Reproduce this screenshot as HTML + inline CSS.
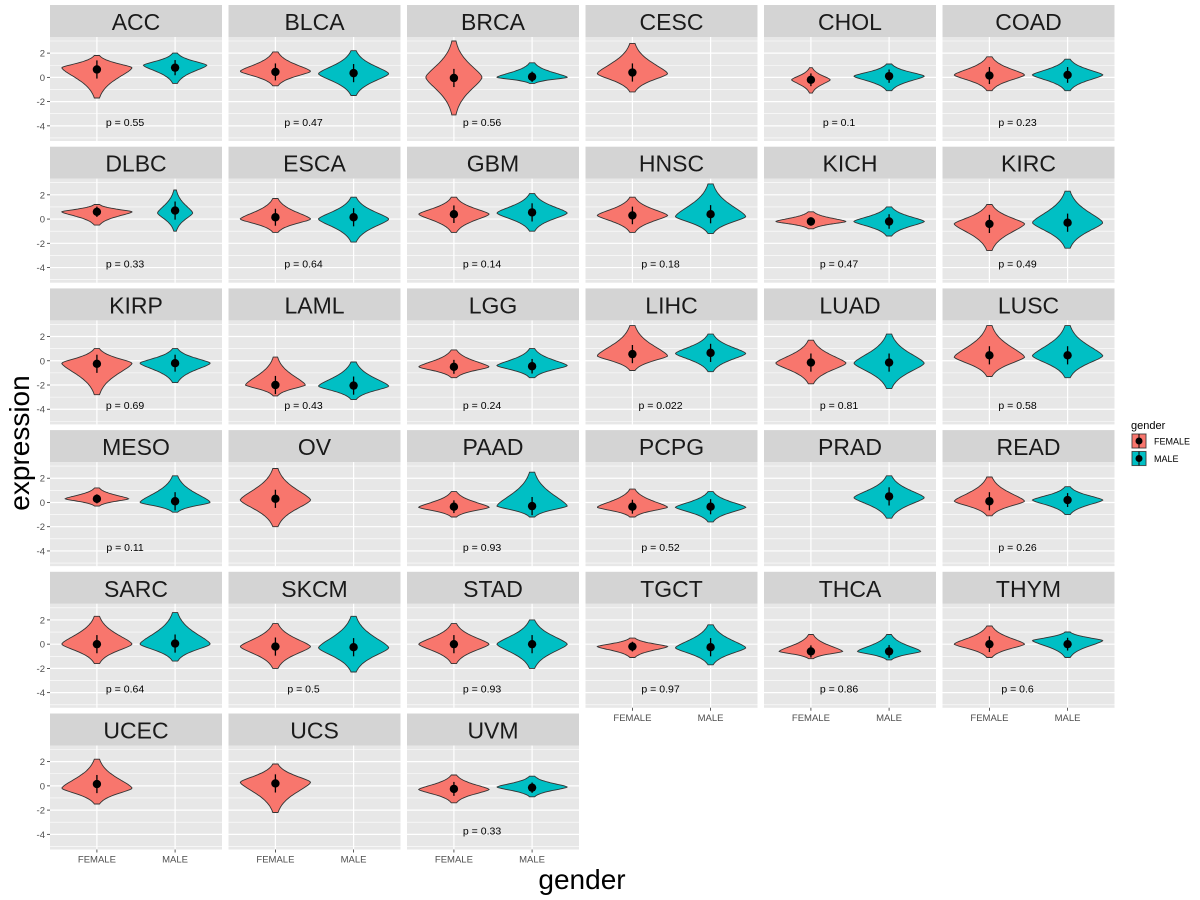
<!DOCTYPE html>
<html><head><meta charset="utf-8"><style>
html,body{margin:0;padding:0;background:#fff}
svg{display:block;font-family:"Liberation Sans",Arial,sans-serif}
</style></head><body>
<svg id="chart" width="1200" height="900" viewBox="0 0 1200 900"></svg>
<script>
const cancers=["ACC","BLCA","BRCA","CESC","CHOL","COAD","DLBC","ESCA","GBM","HNSC","KICH","KIRC","KIRP","LAML","LGG","LIHC","LUAD","LUSC","MESO","OV","PAAD","PCPG","PRAD","READ","SARC","SKCM","STAD","TGCT","THCA","THYM","UCEC","UCS","UVM"];
// female violins: [min, max, peak, relative width, mean] (null = no data)
const femaleStats=[[-1.7,1.8,0.8,1,0.65],[-0.7,2.1,0.5,1,0.45],[-3.1,3.0,0,0.8,-0.05],[-1.2,2.8,0.3,1,0.4],[-1.3,0.8,-0.2,0.55,-0.2],[-1.1,1.7,0.2,1,0.15],
[-0.5,1.2,0.6,1,0.6],[-1.1,1.7,0,1,0.15],[-1.1,1.8,0.4,1,0.4],[-1.1,1.8,0.3,1,0.3],[-0.8,0.6,-0.2,1,-0.2],[-2.6,1.2,-0.4,1,-0.4],
[-2.8,1.0,-0.2,1,-0.25],[-2.9,0.3,-2.0,0.85,-2.0],[-1.4,0.9,-0.5,1,-0.5],[-0.8,2.9,0.4,1,0.55],[-1.9,1.7,-0.2,1,-0.15],[-1.3,2.9,0.3,1,0.45],
[-0.3,1.2,0.3,0.9,0.3],[-2.0,2.8,0.2,1,0.3],[-1.2,0.9,-0.4,1,-0.35],[-1.2,1.1,-0.4,1,-0.35],null,[-1.1,2.1,0.1,1,0.1],
[-1.6,2.3,0,1,0],[-2.0,1.7,-0.2,1,-0.2],[-1.6,1.7,0,1,0],[-1.1,0.5,-0.2,1,-0.2],[-1.2,0.8,-0.6,0.9,-0.6],[-1.1,1.5,0,1,0],
[-1.5,2.2,-0.2,1,0.15],[-2.2,1.8,0.3,1,0.2],[-1.4,0.9,-0.3,1,-0.25]];
const maleStats=[[-0.5,2.0,1.0,0.9,0.8],[-1.5,2.2,0.3,1,0.35],[-0.5,1.2,0,1,0.05],null,[-1.1,1.1,0.1,1,0.1],[-1.1,1.5,0.2,1,0.2],
[-1.0,2.4,0.5,0.5,0.7],[-1.9,1.8,0,1,0.15],[-1.0,2.1,0.5,1,0.55],[-1.2,2.9,0.2,1,0.4],[-1.4,1.0,-0.2,1,-0.2],[-2.4,2.3,-0.3,1,-0.3],
[-1.8,1.0,-0.2,1,-0.2],[-3.2,-0.1,-2.1,1,-2.05],[-1.4,1.0,-0.4,1,-0.45],[-0.9,2.2,0.6,1,0.65],[-2.3,2.2,-0.2,1,-0.15],[-1.4,2.9,0.4,1,0.45],
[-0.8,2.2,0,1,0.1],null,[-1.2,2.5,-0.3,1,-0.3],[-1.6,0.9,-0.4,1,-0.35],[-1.3,2.2,0.4,1,0.5],[-1.0,1.3,0.2,1,0.2],
[-1.4,2.6,0,1,0.05],[-2.3,2.3,-0.3,1,-0.25],[-2.0,2.0,0,1,0],[-1.7,1.6,-0.3,1,-0.25],[-1.3,0.8,-0.6,0.9,-0.6],[-1.1,1.0,0.3,1,0],
null,null,[-0.9,0.8,-0.1,1,-0.15]];
const pValues=["0.55","0.47","0.56",null,"0.1","0.23","0.33","0.64","0.14","0.18","0.47","0.49","0.69","0.43","0.24","0.022","0.81","0.58","0.11",null,"0.93","0.52",null,"0.26","0.64","0.5","0.93","0.97","0.86","0.6",null,null,"0.33"];
const yTicks=[-4,-2,0,2];
const xCats=["FEMALE","MALE"];

const NS="http://www.w3.org/2000/svg";
const svg=document.getElementById('chart');
function el(tag,attrs,parent){const e=document.createElementNS(NS,tag);for(const k in attrs)e.setAttribute(k,attrs[k]);(parent||svg).appendChild(e);return e;}
const PW=172,PH=104,SH=32,colStep=178.5,rowStep=141.7,X0=50,Y0=5;
const yMin=-5.25,yMax=3.33;
const fill=["#F8766D","#00BFC4"];
for(let i=0;i<cancers.length;i++){
  const c=i%6,r=Math.floor(i/6);
  const px=X0+c*colStep, sy=Y0+r*rowStep, py=sy+SH;
  const ys=v=>py+(yMax-v)/(yMax-yMin)*PH;
  const xs=v=>px+(v-0.4)/2.2*PW;
  const g=el('g',{});
  
  
  const strip=el('rect',{x:px,y:sy,width:PW,height:SH,fill:'#d4d4d4'},g);
  
  const st=el('text',{x:px+PW/2,y:sy+25,'text-anchor':'middle','font-size':23,fill:'#1a1a1a'},g);
  st.textContent=cancers[i];
  
  const bg=el('rect',{x:px,y:py,width:PW,height:PH,fill:'#e7e7e7'},g);
  
  for(let v=-5;v<=3;v+=2) el('line',{x1:px,x2:px+PW,y1:ys(v),y2:ys(v),stroke:'#fff','stroke-width':0.6},g);
  yTicks.forEach(v=>el('line',{x1:px,x2:px+PW,y1:ys(v),y2:ys(v),stroke:'#fff','stroke-width':1.2},g));
  [1,2].forEach(v=>el('line',{x1:xs(v),x2:xs(v),y1:py,y2:py+PH,stroke:'#fff','stroke-width':1.2},g));
  [femaleStats[i],maleStats[i]].forEach((s,k)=>{
    if(!s)return;
    const [lo,hi,pk,w,mean]=s;
    const cx=xs(k+1), maxW=0.45/2.2*PW*w;
    const su=Math.max((hi-pk)/3.0,0.12), sd=Math.max((pk-lo)/3.0,0.12);
    const pts=[],N=50;
    for(let j=0;j<=N;j++){const y=lo+(hi-lo)*j/N;const s2=y>pk?su:sd;const hw=maxW*Math.exp(-0.5*Math.pow(Math.abs(y-pk)/s2,1.5));pts.push([y,Math.max(hw,1.2)]);}
    let d='M'+pts.map(p=>(cx+p[1]).toFixed(1)+','+ys(p[0]).toFixed(1)).join('L');
    d+='L'+pts.slice().reverse().map(p=>(cx-p[1]).toFixed(1)+','+ys(p[0]).toFixed(1)).join('L')+'Z';
    const v=el('path',{d:d,fill:fill[k],stroke:'#333','stroke-width':0.9},g);
    
    const sdv=Math.min(0.75,(hi-lo)/4);
    el('line',{x1:cx,x2:cx,y1:ys(mean-sdv),y2:ys(mean+sdv),stroke:'#000','stroke-width':1.3},g);
    const pt=el('circle',{cx:cx,cy:ys(mean),r:4.2,fill:'#000'},g);
    
  });
  if(pValues[i]){const t=el('text',{x:xs(1.36),y:ys(-4),'text-anchor':'middle','font-size':10.5,fill:'#000'},g);t.textContent='p = '+pValues[i];
    }
  if(c===0){yTicks.forEach(v=>{el('line',{x1:px-3,x2:px,y1:ys(v),y2:ys(v),stroke:'#333','stroke-width':0.8},g);
    const t=el('text',{x:px-5,y:ys(v)+3.5,'text-anchor':'end','font-size':9.5,fill:'#4d4d4d'},g);t.textContent=v;
    });}
  const bottom=(r===5)||(r===4&&c>=3);
  if(bottom){xCats.forEach((n,k)=>{el('line',{x1:xs(k+1),x2:xs(k+1),y1:py+PH,y2:py+PH+3,stroke:'#333','stroke-width':0.8},g);
    const t=el('text',{x:xs(k+1),y:py+PH+13,'text-anchor':'middle','font-size':9.5,fill:'#4d4d4d'},g);t.textContent=n;
    });}
}
const yt=el('text',{x:0,y:0,transform:'translate(29,443) rotate(-90)','text-anchor':'middle','font-size':28,fill:'#000'});
yt.textContent='expression';
const xt=el('text',{x:582,y:889,'text-anchor':'middle','font-size':28,fill:'#000'});
xt.textContent='gender';
const lg=el('g',{});
const lt=el('text',{x:1131,y:429,'font-size':11,fill:'#000'},lg);lt.textContent='gender';
xCats.forEach((n,k)=>{const y=433+k*17.5;
  const e=el('g',{},lg);
  el('rect',{x:1131,y:y,width:16,height:16,fill:'#f2f2f2'},e);
  el('rect',{x:1132,y:y+1,width:14,height:14,fill:fill[k],stroke:'#333','stroke-width':0.8},e);
  el('line',{x1:1139,x2:1139,y1:y+1,y2:y+15,stroke:'#000','stroke-width':1},e);
  el('circle',{cx:1139,cy:y+8,r:3.5,fill:'#000'},e);
  const t=el('text',{x:1154,y:y+11.5,'font-size':9,fill:'#000'},e);t.textContent=n;});
</script>
</body></html>
